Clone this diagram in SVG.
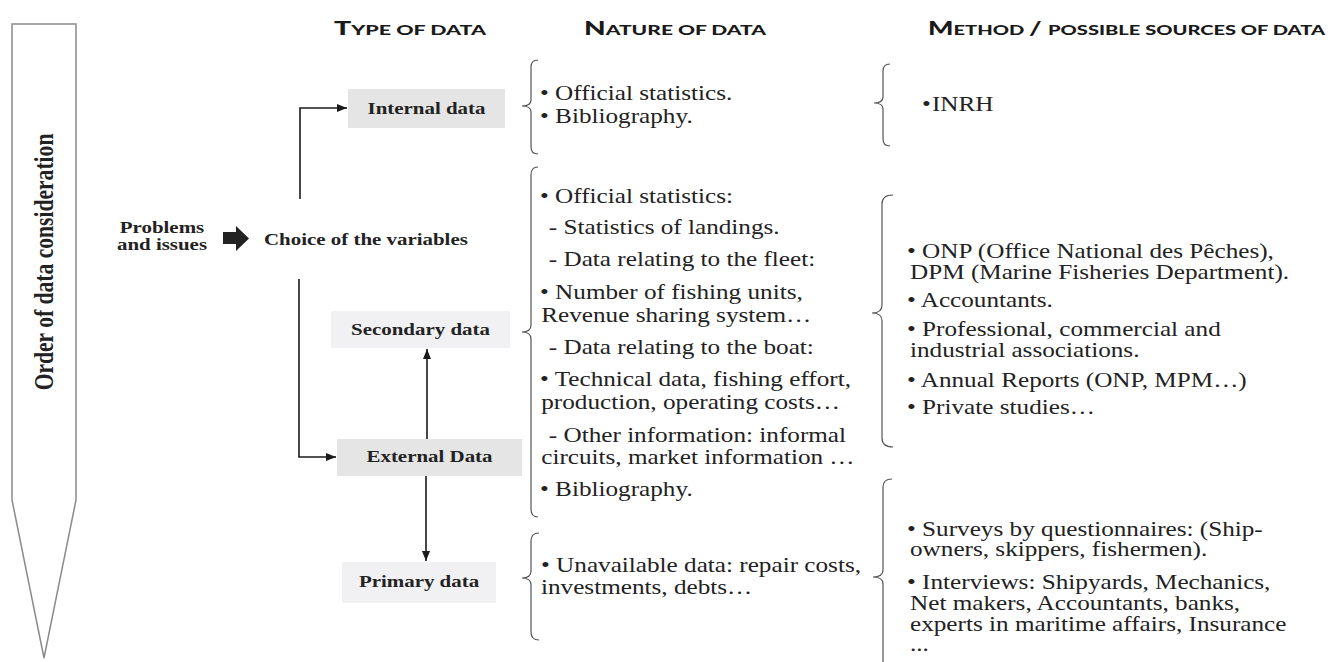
<svg xmlns="http://www.w3.org/2000/svg" width="1335" height="662" viewBox="0 0 1335 662">
<style>
.hdr{font-family:Lato,"Open Sans",sans-serif;font-weight:900;fill:#1a1a1a}
.big{font-size:18px}
.sc{font-size:13.5px}
.lbl{font-family:"Liberation Serif","Times New Roman",serif;font-weight:bold;font-size:16.6px;fill:#222}
.txt{font-family:"Liberation Serif","Times New Roman",serif;font-size:20px;fill:#222}
.box1{fill:#e5e5e5}
.box2{fill:#f1f1f3}
.brace{fill:none;stroke:#555;stroke-width:1.2}
.conn{fill:none;stroke:#1a1a1a;stroke-width:1.6}
</style>
<defs>
<marker id="ah" viewBox="0 0 10 8" refX="10" refY="4" markerWidth="10" markerHeight="8" markerUnits="userSpaceOnUse" orient="auto">
<path d="M0,0 L10,4 L0,8 z" fill="#1a1a1a"/>
</marker>
</defs>

<g id="order-arrow">
<polygon points="12,24 76,24 76,500 44,658 12,500" fill="#fff" stroke="#8a8a8a" stroke-width="1.5"/>
<text class="lbl" style="font-size:21.6px" text-anchor="middle" transform="translate(53 262) scale(1.26 1) rotate(-90)">Order of data consideration</text>
</g>

<g id="headers">
<text class="hdr" x="334" y="35" textLength="152" lengthAdjust="spacingAndGlyphs"><tspan class="big">T</tspan><tspan class="sc">YPE OF DATA</tspan></text>
<text class="hdr" x="584" y="35" textLength="182" lengthAdjust="spacingAndGlyphs"><tspan class="big">N</tspan><tspan class="sc">ATURE OF DATA</tspan></text>
<text class="hdr" x="928" y="35" textLength="397" lengthAdjust="spacingAndGlyphs"><tspan class="big">M</tspan><tspan class="sc">ETHOD </tspan><tspan class="big">/ </tspan><tspan class="sc">POSSIBLE SOURCES OF DATA</tspan></text>
</g>

<g id="problems">
<g transform="translate(162 0) scale(1.26 1)">
<text class="lbl" text-anchor="middle" x="0" y="233">Problems</text>
<text class="lbl" text-anchor="middle" x="0" y="250">and issues</text>
</g>
<polygon points="223,232 236,232 236,226 249,238.5 236,251 236,244 223,244" fill="#222"/>
</g>

<g id="choice">
<g transform="translate(264 0) scale(1.26 1)"><text class="lbl" x="0" y="245">Choice of the variables</text></g>
</g>

<g id="internal">
<rect class="box1" x="348" y="89" width="157" height="39"/>
<g transform="translate(426.5 0) scale(1.26 1)"><text class="lbl" text-anchor="middle" x="0" y="114">Internal data</text></g>
</g>

<g id="secondary">
<rect class="box2" x="331" y="311" width="179" height="37"/>
<g transform="translate(420.5 0) scale(1.26 1)"><text class="lbl" text-anchor="middle" x="0" y="335">Secondary data</text></g>
</g>

<g id="external">
<rect class="box1" x="337" y="439" width="185" height="37"/>
<g transform="translate(429.5 0) scale(1.26 1)"><text class="lbl" text-anchor="middle" x="0" y="462">External Data</text></g>
</g>

<g id="primary">
<rect class="box2" x="342" y="562" width="154" height="41"/>
<g transform="translate(419 0) scale(1.26 1)"><text class="lbl" text-anchor="middle" x="0" y="587">Primary data</text></g>
</g>

<g id="connectors">
<path class="conn" d="M300,199 V108 H347" marker-end="url(#ah)"/>
<path class="conn" d="M299,279 V457 H336" marker-end="url(#ah)"/>
<path class="conn" d="M427,439 V349" marker-end="url(#ah)"/>
<path class="conn" d="M426,476 V561" marker-end="url(#ah)"/>
</g>

<g id="nature-internal">
<path class="brace" d="M538,60 Q531,60 531,67 L531,100 Q531,106 522,106 Q531,106 531,112 L531,147 Q531,154 538,154"/>
<g transform="translate(540 0) scale(1.26 1)">
<text class="txt" x="0" y="100">• Official statistics.</text>
<text class="txt" x="0" y="123">• Bibliography.</text>
</g>
</g>

<g id="nature-secondary">
<path class="brace" d="M538,167 Q531,167 531,175 L531,325 Q531,332 522,332 Q531,332 531,339 L531,509 Q531,517 538,517"/>
<g transform="translate(540 0) scale(1.26 1)">
<text class="txt" x="0" y="203">• Official statistics:</text>
<text class="txt" x="7" y="234">- Statistics of landings.</text>
<text class="txt" x="7" y="266">- Data relating to the fleet:</text>
<text class="txt" x="0" y="299">• Number of fishing units,</text>
<text class="txt" x="1" y="322">Revenue sharing system…</text>
<text class="txt" x="7" y="354">- Data relating to the boat:</text>
<text class="txt" x="0" y="386">• Technical data, fishing effort,</text>
<text class="txt" x="1" y="409">production, operating costs…</text>
<text class="txt" x="7" y="442">- Other information: informal</text>
<text class="txt" x="1" y="464">circuits, market information …</text>
<text class="txt" x="0" y="496">• Bibliography.</text>
</g>
</g>

<g id="nature-primary">
<path class="brace" d="M539,533 Q531,533 531,541 L531,571 Q531,578 522,578 Q531,578 531,585 L531,632 Q531,640 539,640"/>
<g transform="translate(541 0) scale(1.26 1)">
<text class="txt" x="0" y="572">• Unavailable data: repair costs,</text>
<text class="txt" x="0" y="594">investments, debts…</text>
</g>
</g>

<g id="source-internal">
<path class="brace" d="M890,64 Q883,64 883,71 L883,97 Q883,103 874,103 Q883,103 883,109 L883,139 Q883,146 890,146"/>
<g transform="translate(907 0) scale(1.26 1)">
<text class="txt" y="111"><tspan x="11.9">•</tspan><tspan x="19.8">INRH</tspan></text>
</g>
</g>

<g id="source-secondary">
<path class="brace" d="M893,195 Q882,195 882,204 L882,305 Q882,313 872,313 Q882,313 882,321 L882,438 Q882,447 893,447"/>
<g transform="translate(907 0) scale(1.26 1)">
<text class="txt" x="0" y="258">• ONP (Office National des Pêches),</text>
<text class="txt" x="2.4" y="279">DPM (Marine Fisheries Department).</text>
<text class="txt" x="0" y="307">• Accountants.</text>
<text class="txt" x="0" y="336">• Professional, commercial and</text>
<text class="txt" x="2.4" y="357">industrial associations.</text>
<text class="txt" x="0" y="387">• Annual Reports (ONP, MPM…)</text>
<text class="txt" x="0" y="414">• Private studies…</text>
</g>
</g>

<g id="source-primary">
<path class="brace" d="M892,479 Q883,479 883,487 L883,570 Q883,577 873,577 Q883,577 883,584 L883,670"/>
<g transform="translate(907 0) scale(1.26 1)">
<text class="txt" x="0" y="536">• Surveys by questionnaires: (Ship-</text>
<text class="txt" x="2.4" y="556">owners, skippers, fishermen).</text>
<text class="txt" x="0" y="589">• Interviews: Shipyards, Mechanics,</text>
<text class="txt" x="2.4" y="610">Net makers, Accountants, banks,</text>
<text class="txt" x="2.4" y="631">experts in maritime affairs, Insurance</text>
<text class="txt" x="2.4" y="651">...</text>
</g>
</g>
</svg>
